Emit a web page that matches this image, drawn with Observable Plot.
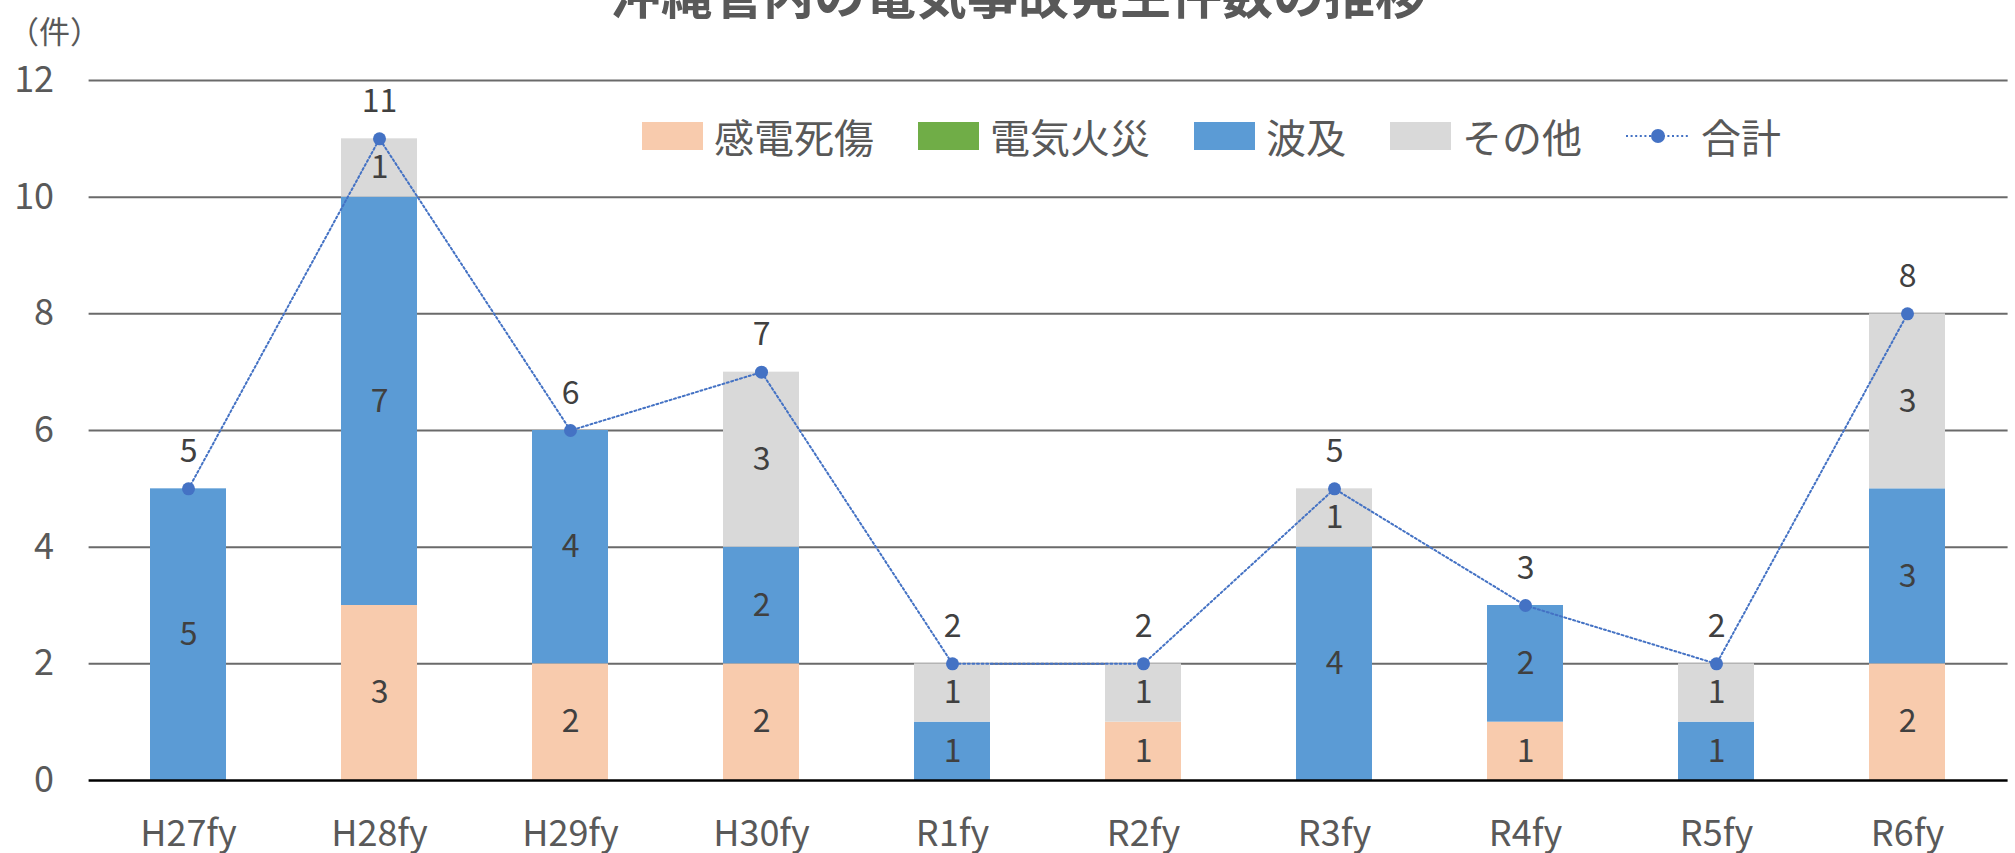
<!DOCTYPE html>
<html><head><meta charset="utf-8">
<script src="https://cdn.jsdelivr.net/npm/d3@7"></script>
<script src="https://cdn.jsdelivr.net/npm/@observablehq/plot@0.6"></script>
<style>
html,body{margin:0;padding:0;background:#fff;overflow:hidden;width:2015px;height:853px;}
#wrap{position:relative;width:2015px;height:853px;font-family:"Noto Sans CJK JP",sans-serif;}
#chart{position:absolute;left:0;top:0;}
#title{position:absolute;top:-33px;left:1018px;transform:translateX(-50%);font-size:51px;font-weight:bold;color:#595959;line-height:1;white-space:nowrap;}
#unit{position:absolute;left:8px;top:14px;font-size:31px;color:#595959;line-height:1;}
#legend{position:absolute;left:642px;top:116px;display:flex;align-items:center;font-size:40px;color:#595959;line-height:40px;}
.item{display:flex;align-items:center;margin-right:44px;}
.sw{width:61px;height:28px;margin-right:11px;}
.ln{width:64px;height:20px;margin-right:11px;}
</style>
</head><body>
<div id="wrap">
  <div id="chart"></div>
  <div id="title"></div>
  <div id="unit"></div>
  <div id="legend"></div>
</div>
<script>
const titleText = "沖縄管内の電気事故発生件数の推移";
const unitText = "（件）";
const categories = ["H27fy","H28fy","H29fy","H30fy","R1fy","R2fy","R3fy","R4fy","R5fy","R6fy"];
const seriesNames = ["感電死傷","電気火災","波及","その他"];
const shock  = [0,3,2,2,0,1,0,1,0,2];
const fire   = [0,0,0,0,0,0,0,0,0,0];
const spread = [5,7,4,2,1,0,4,2,1,3];
const other  = [0,1,0,3,1,1,1,0,1,3];
const totalName = "合計";
const totals = [5,11,6,7,2,2,5,3,2,8];
const yTicks = [0,2,4,6,8,10,12];
const colors = ["#F8CBAD","#70AD47","#5B9BD5","#D9D9D9"];
const lineColor = "#4472C4";

const seriesValues = [shock, fire, spread, other];
const rows = [];
seriesNames.forEach((s, si) => {
  categories.forEach((c, i) => rows.push({cat: c, series: s, value: seriesValues[si][i]}));
});
const totalRows = categories.map((c, i) => ({cat: c, total: totals[i]}));

const chart = Plot.plot({
  width: 2015, height: 853,
  marginTop: 80, marginBottom: 73, marginLeft: 88.6, marginRight: 7.4,
  x: {type: "band", domain: categories, paddingInner: 0.6, paddingOuter: 0.3, label: null},
  y: {domain: [0, 12], ticks: yTicks, label: null},
  color: {domain: seriesNames, range: colors},
  style: {fontFamily: "'Noto Sans CJK JP', sans-serif", background: "white", overflow: "visible"},
  marks: [
    Plot.ruleY(yTicks.filter(t => t > 0), {stroke: "#6a6a6a", strokeWidth: 2}),
    Plot.barY(rows, {x: "cat", y: "value", fill: "series"}),
    Plot.ruleY([0], {stroke: "#000", strokeWidth: 2.5}),
    Plot.text(rows, Plot.stackY({x: "cat", y: "value", z: "series", text: "value",
      filter: d => d.value > 0, fill: "#404040", fontSize: 32})),
    Plot.line(totalRows, {x: "cat", y: "total", stroke: lineColor, strokeWidth: 2, strokeDasharray: "2 2.6"}),
    Plot.dot(totalRows, {x: "cat", y: "total", r: 6.5, fill: lineColor}),
    Plot.text(totalRows, {x: "cat", y: "total", text: "total", dy: -37, fontSize: 32, fill: "#404040"}),
    Plot.axisX({tickSize: 0, tickPadding: 40, fontSize: 36, color: "#595959", label: null}),
    Plot.axisY({tickSize: 0, tickPadding: 35, fontSize: 36, color: "#595959", label: null, ticks: yTicks})
  ]
});
document.getElementById("chart").appendChild(chart);
document.getElementById("title").textContent = titleText;
document.getElementById("unit").textContent = unitText;

const legend = document.getElementById("legend");
seriesNames.forEach((s, i) => {
  const it = document.createElement("div"); it.className = "item";
  const sw = document.createElement("div"); sw.className = "sw"; sw.style.background = colors[i];
  const tx = document.createElement("span"); tx.textContent = s;
  it.appendChild(sw); it.appendChild(tx); legend.appendChild(it);
});
{
  const it = document.createElement("div"); it.className = "item"; it.style.marginRight = "0";
  const ns = "http://www.w3.org/2000/svg";
  const svg = document.createElementNS(ns, "svg");
  svg.setAttribute("class", "ln"); svg.setAttribute("width", 64); svg.setAttribute("height", 20);
  const l = document.createElementNS(ns, "line");
  l.setAttribute("x1", 0); l.setAttribute("x2", 64); l.setAttribute("y1", 10); l.setAttribute("y2", 10);
  l.setAttribute("stroke", lineColor); l.setAttribute("stroke-width", 2); l.setAttribute("stroke-dasharray", "2 2.6");
  const c = document.createElementNS(ns, "circle");
  c.setAttribute("cx", 32); c.setAttribute("cy", 10); c.setAttribute("r", 7); c.setAttribute("fill", lineColor);
  svg.appendChild(l); svg.appendChild(c);
  const tx = document.createElement("span"); tx.textContent = totalName;
  it.appendChild(svg); it.appendChild(tx); legend.appendChild(it);
}
</script>
</body></html>
